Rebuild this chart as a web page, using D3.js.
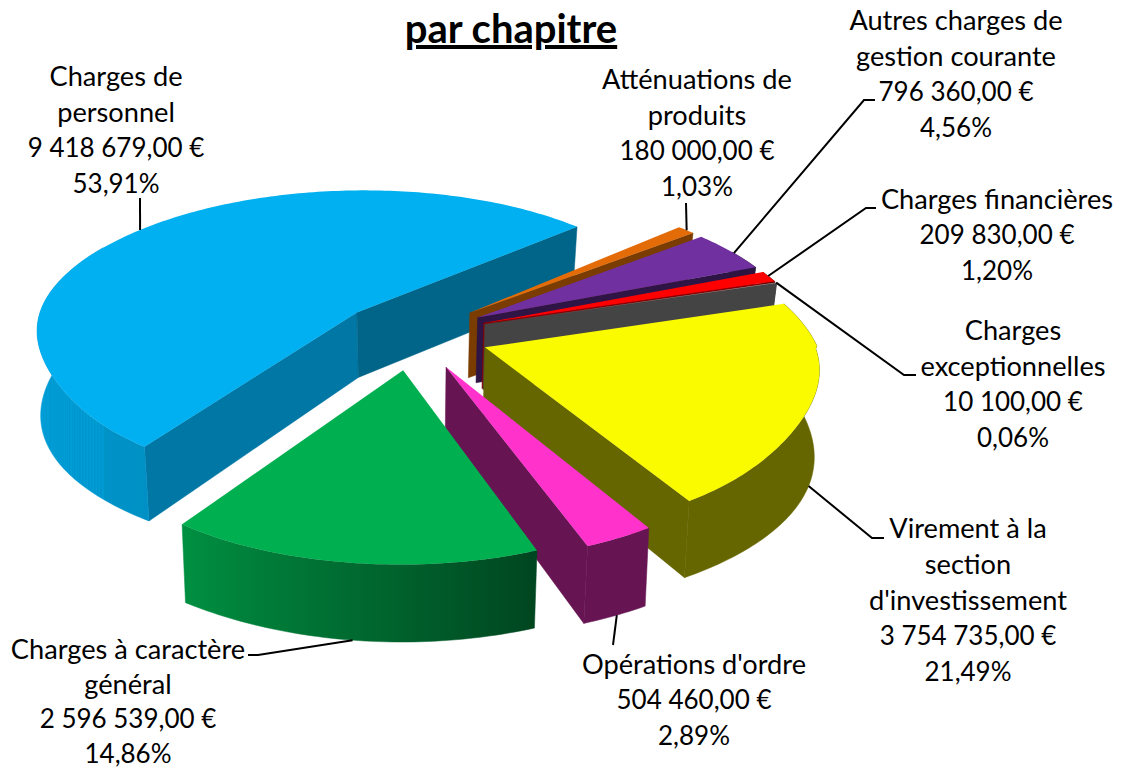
<!DOCTYPE html>
<html>
<head>
<meta charset="utf-8">
<script src="https://cdn.jsdelivr.net/npm/d3@7"></script>
<style>
  html, body { margin: 0; padding: 0; background: #fff; }
  svg { display: block; }
  text { font-family: Lato, "Open Sans", sans-serif; fill: #000; }
</style>
</head>
<body>
<svg id="chart" width="1122" height="769"></svg>
<script>
// chapitres, clockwise from the orange slice
var chapitres = [
  ["Atténuations de", "produits"],
  ["Autres charges de", "gestion courante"],
  ["Charges financières"],
  ["Charges", "exceptionnelles"],
  ["Virement à la", "section", "d'investissement"],
  ["Opérations d'ordre"],
  ["Charges à caractère", "général"],
  ["Charges de", "personnel"]
];
var montants = [180000, 796360, 209830, 10100, 3754735, 504460, 2596539, 9418679];

var titre = "par chapitre";

// styles, same order as the data
var couleurs = ["#E36C09", "#7030A0", "#FF0000", "#A6A6A6", "#FBFB00", "#FF33CC", "#00B050", "#00B0F0"];
var couleursBase = ["#E36C09", "#7030A0", "#FF0000", "#A6A6A6", "#FFFF00", "#FF33CC", "#00B050", "#00B0F0"];
var couleursParoi = ["#7A3C00", "#2F1545", "#8A0000", "#444444", "#666600", "#661452", "#006030", "#0077A4"];
var couleurParoiDepart = "#006588"; // blue slice only, its other cut face
var ordreDessin = [7, 0, 1, 2, 3, 4, 5, 6]; // back to front

// label layout: text centre, first line y, and the leader (rim angle in degrees, z, then px points)
var etiquettes = [
  {cx: 697, y: 78,  ang: 320, z: 0, pts: [[686, 203]]},
  {cx: 956, y: 19,  ang: 331, z: 0, pts: [[864, 100], [875, 100]]},
  {cx: 997, y: 198, ang: 340, z: 0, pts: [[866, 208], [876, 208]]},
  {cx: 1013, y: 329, ang: 342.5, z: 0, pts: [[904, 375], [916, 375]]},
  {cx: 968, y: 527, ang: 22, z: 1, pts: [[872, 538], [884, 538]]},
  {cx: 694, y: 663, ang: 65, z: 1, pts: [[613, 645]]},
  {cx: 128, y: 648, pas: 35, ang: 97, z: 1, pts: [[258, 655], [248, 655]]},
  {cx: 116, y: 75,  ang: 220, z: 0, pts: [[140, 198]]}
];
var interligne = 36;

var svg = d3.select("#chart");
var defs = svg.append("defs");

// projection of the tilted pie: plane coords (X, Y) with radius 1, z 0 = top, 1 = bottom
var fuite = 0.165, hauteur = 66, serrage = 0.025;
var xEchelle = d3.scaleLinear().domain([-1, 1]).range([413 - 328, 413 + 328]);
var yEchelle = d3.scaleLinear().domain([-1, 1]).range([334.6 - 149, 334.6 + 149]);
var eclate = 0.232;

var projette = function(X, Y, z, surplus) {
  var s = 1 / (1 - fuite * Y);
  return [
    xEchelle(X * s * (1 - serrage * z)),
    yEchelle(Y * s) + hauteur * z * (1 + 0.68 * (s - 1)) * (1 + (surplus || 0))
  ];
};

// the reference top face is a little flatter on the two front diagonals
var bosse = function(a, c) {
  var t = (((a * 180 / Math.PI + 720) % 360) - c) / 26;
  return Math.exp(-t * t);
};
var rayon = function(a, z) {
  return 1 - 0.03 * (1 - z) * (bosse(a, 32) + bosse(a, 152));
};
// and the rim wall reads taller at its left and right ends
var surplusBord = function(a) {
  return 0.15 * Math.pow(Math.abs(Math.cos(a)), 4);
};

var debutPie = 48 * Math.PI / 180;
var pie = d3.pie().sort(null).startAngle(debutPie).endAngle(debutPie + 2 * Math.PI);
var arcs = pie(montants);
var total = d3.sum(montants);
var fr = d3.formatLocale({decimal: ",", thousands: " ", grouping: [3], currency: ["", " €"]});
var fmtMontant = fr.format("$,.2f");
var fmtPct = fr.format(".2f");

var ligne = d3.line();
var ferme = function(pts) { return ligne(pts) + "Z"; };

// rim shade by angle (0 = right, clockwise, 90 = front)
var ombre = d3.scaleLinear().domain([71, 124, 180]).range([0.4, 0.82, 0.9]).clamp(true);

var groupe = svg.append("g");
var pointsRim = {};

ordreDessin.forEach(function(i) {
  var d = arcs[i];
  var a0 = d.startAngle - Math.PI / 2, a1 = d.endAngle - Math.PI / 2;
  var mid = (a0 + a1) / 2;
  var ox = eclate * Math.cos(mid), oy = eclate * Math.sin(mid);
  var sur = function(a, z) {
    var r = rayon(a, z);
    return projette(ox + r * Math.cos(a), oy + r * Math.sin(a), z, surplusBord(a));
  };
  pointsRim[i] = sur;
  var centre = function(z) { return projette(ox, oy, z); };
  var g = groupe.append("g");

  // cut faces that look toward the viewer
  if (Math.sin(a0 - Math.PI / 2) > 0) {
    g.append("path")
      .attr("d", ferme([centre(0), sur(a0, 0), sur(a0, 1), centre(1)]))
      .attr("fill", couleursParoi[i])
      .attr("stroke", couleursParoi[i]).attr("stroke-width", 0.5);
  }
  if (Math.sin(a1 + Math.PI / 2) > 0) {
    var cAvant = i === 7 ? couleurParoiDepart : couleursParoi[i];
    g.append("path")
      .attr("d", ferme([centre(0), sur(a1, 0), sur(a1, 1), centre(1)]))
      .attr("fill", cAvant)
      .attr("stroke", cAvant).attr("stroke-width", 0.5);
  }

  var n = Math.max(1, Math.ceil((a1 - a0) / (Math.PI / 180)));
  var angles = d3.range(n + 1).map(function(k) { return a0 + (a1 - a0) * k / n; });

  // rim, the part facing the viewer plus a margin the top face covers, gradient across x
  var visibles = angles.filter(function(a) { return Math.sin(a) > -0.5; });
  if (visibles.length > 1) {
    var base = d3.color(couleursBase[i]);
    var teinte = function(a) {
      var deg = (a * 180 / Math.PI + 720) % 360;
      var f = deg > 270 ? 0.4 : ombre(deg);
      return d3.rgb(base.r * f, base.g * f, base.b * f).formatHex();
    };
    var xs = visibles.map(function(a) { return sur(a, 0)[0]; });
    var xMin = d3.min(xs), xMax = d3.max(xs);
    var arrets = visibles.map(function(a, k) {
      return {offset: (xs[k] - xMin) / (xMax - xMin), color: teinte(a)};
    }).sort(function(p, q) { return p.offset - q.offset; });
    var grad = defs.append("linearGradient")
      .attr("id", "rim" + i)
      .attr("gradientUnits", "userSpaceOnUse")
      .attr("x1", xMin).attr("x2", xMax).attr("y1", 0).attr("y2", 0);
    grad.selectAll("stop").data(arrets).enter().append("stop")
      .attr("offset", function(p) { return p.offset; })
      .attr("stop-color", function(p) { return p.color; });
    var bord = visibles.map(function(a) { return sur(a, 0); })
      .concat(visibles.slice().reverse().map(function(a) { return sur(a, 1); }));
    g.append("path").attr("d", ferme(bord))
      .attr("fill", "url(#rim" + i + ")")
      .attr("stroke", "url(#rim" + i + ")").attr("stroke-width", 0.5);
  }

  // top face
  var haut = [centre(0)].concat(angles.map(function(a) { return sur(a, 0); }));
  g.append("path").attr("d", ferme(haut)).attr("fill", couleurs[i]);
});

// leaders
etiquettes.forEach(function(e, i) {
  var debut = pointsRim[i](e.ang * Math.PI / 180, e.z);
  svg.append("path")
    .attr("d", ligne([debut].concat(e.pts)))
    .attr("fill", "none").attr("stroke", "#000").attr("stroke-width", 2);
});

// labels
etiquettes.forEach(function(e, i) {
  var nbTexte = chapitres[i].length;
  var lignes = chapitres[i].concat([
    fmtMontant(montants[i]),
    fmtPct(montants[i] / total * 100) + "%"
  ]);
  var t = svg.append("text").attr("text-anchor", "middle");
  lignes.forEach(function(l, k) {
    t.append("tspan").attr("x", e.cx).attr("y", e.y + k * (e.pas || interligne))
      .attr("dominant-baseline", "central")
      .style("font-size", k < nbTexte ? "27.2px" : "26px")
      .text(l);
  });
});

// title
svg.append("text")
  .attr("x", 511).attr("y", 43).attr("text-anchor", "middle")
  .style("font-size", "40px").style("font-weight", "700")
  .style("text-decoration", "underline")
  .text(titre);
</script>
</body>
</html>
